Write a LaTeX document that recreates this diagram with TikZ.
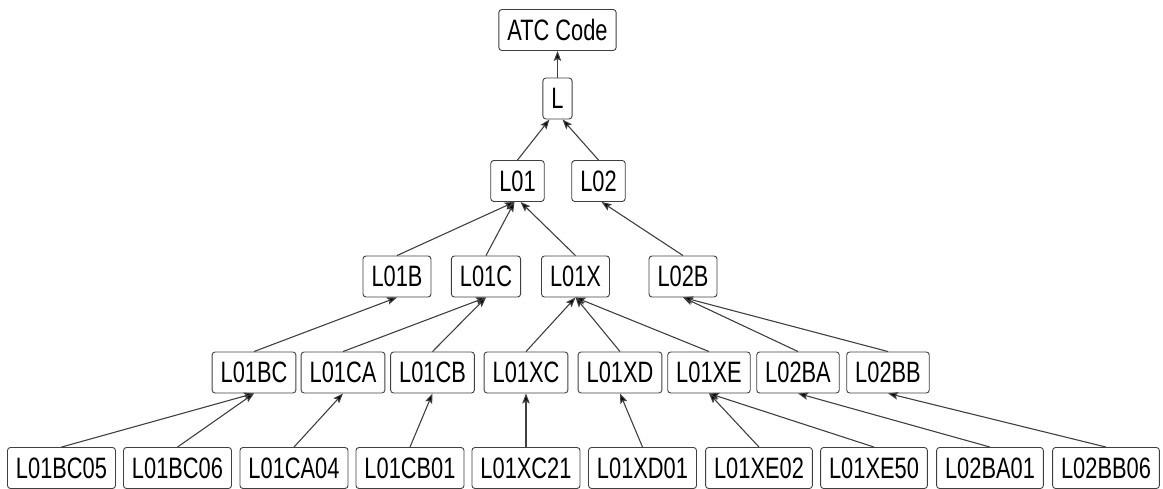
\documentclass[tikz,border=0pt]{standalone}
\usepackage{fontspec}
\setmainfont{Liberation Sans}[FakeStretch=0.74]
\usetikzlibrary{arrows.meta}
\begin{document}
\begin{tikzpicture}[x=1pt,y=-1pt,
  box/.style={draw=black!75, line width=0.9pt, rounded corners=3pt, fill=white,
    inner xsep=8.5pt, inner ysep=0pt, minimum height=41pt,
    font=\fontsize{29.5}{30}\selectfont, text=black},
  link/.style={draw=black!75, line width=1.1pt,
    -{Stealth[length=10pt,width=7.5pt,inset=2pt,fill=black]}}]
\useasboundingbox (0,0) rectangle (1163,489);
% root and first levels
\node[box] (atc) at (557.5,30) {ATC Code};
\node[box] (L) at (557.5,98.5) {L};
\node[box] (L01) at (517.5,181) {L01};
\node[box] (L02) at (598.5,181) {L02};
% third level
\node[box] (L01B) at (397,276.5) {L01B};
\node[box] (L01C) at (486,276.5) {L01C};
\node[box] (L01X) at (575.5,276.5) {L01X};
\node[box] (L02B) at (683,276.5) {L02B};
% fourth level
\node[box] (L01BC) at (254,372.5) {L01BC};
\node[box] (L01CA) at (343,372.5) {L01CA};
\node[box] (L01CB) at (432.5,372.5) {L01CB};
\node[box] (L01XC) at (526,372.5) {L01XC};
\node[box] (L01XD) at (620,372.5) {L01XD};
\node[box] (L01XE) at (709,372.5) {L01XE};
\node[box] (L02BA) at (798,372.5) {L02BA};
\node[box] (L02BB) at (888,372.5) {L02BB};
% substances
\node[box] (L01BC05) at (61.5,468) {L01BC05};
\node[box] (L01BC06) at (177.5,468) {L01BC06};
\node[box] (L01CA04) at (294,468) {L01CA04};
\node[box] (L01CB01) at (410,468) {L01CB01};
\node[box] (L01XC21) at (526,468) {L01XC21};
\node[box] (L01XD01) at (642.5,468) {L01XD01};
\node[box] (L01XE02) at (759,468) {L01XE02};
\node[box] (L01XE50) at (874,468) {L01XE50};
\node[box] (L02BA01) at (990,468) {L02BA01};
\node[box] (L02BB06) at (1106,468) {L02BB06};
% edges, child to parent
\draw[link] (L.north) -- (atc.south);
\draw[link] (L01.north) -- ([xshift=-8pt]L.south);
\draw[link] (L02.north) -- ([xshift=5pt]L.south);
\draw[link] (L01B.north) -- ([xshift=-3pt]L01.south);
\draw[link] (L01C.north) -- ([xshift=-3pt]L01.south);
\draw[link] (L01X.north) -- ([xshift=3pt]L01.south);
\draw[link] (L02B.north) -- ([xshift=3pt]L02.south);
\draw[link] (L01BC.north) -- (L01B.south);
\draw[link] (L01CA.north) -- (L01C.south);
\draw[link] (L01CB.north) -- (L01C.south);
\draw[link] (L01XC.north) -- (L01X.south);
\draw[link] (L01XD.north) -- (L01X.south);
\draw[link] (L01XE.north) -- (L01X.south);
\draw[link] (L02BA.north) -- (L02B.south);
\draw[link] (L02BB.north) -- (L02B.south);
\draw[link] (L01BC05.north) -- (L01BC.south);
\draw[link] (L01BC06.north) -- (L01BC.south);
\draw[link] (L01CA04.north) -- (L01CA.south);
\draw[link] (L01CB01.north) -- (L01CB.south);
\draw[link] (L01XC21.north) -- (L01XC.south);
\draw[link] (L01XD01.north) -- (L01XD.south);
\draw[link] (L01XE02.north) -- (L01XE.south);
\draw[link] (L01XE50.north) -- (L01XE.south);
\draw[link] (L02BA01.north) -- (L02BA.south);
\draw[link] (L02BB06.north) -- (L02BB.south);
\end{tikzpicture}
\end{document}
